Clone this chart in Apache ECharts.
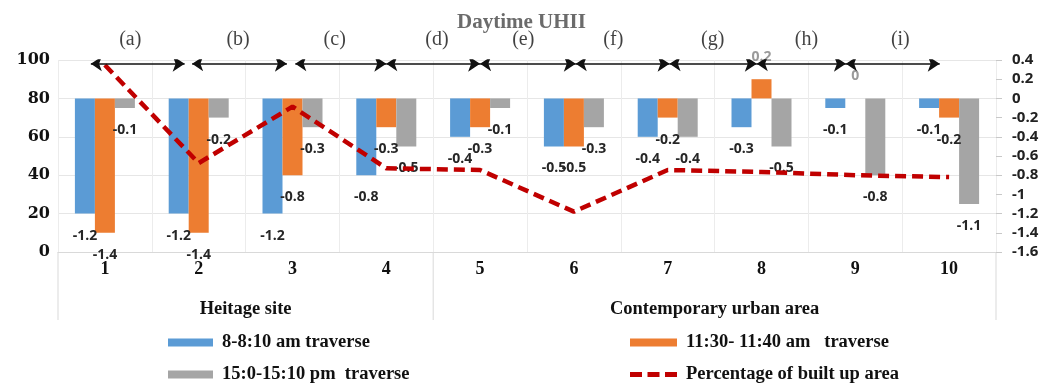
<!DOCTYPE html>
<html><head><meta charset="utf-8">
<script src="https://cdn.jsdelivr.net/npm/echarts@6/dist/echarts.min.js"></script>
<style>html,body{margin:0;padding:0;background:#fff}#c{width:1043px;height:386px}</style>
</head><body><div id="c"></div>
<script>
const categories = ['1','2','3','4','5','6','7','8','9','10'];
const am8 = [-1.2,-1.2,-1.2,-0.8,-0.4,-0.5,-0.4,-0.3,-0.1,-0.1];
const am1130 = [-1.4,-1.4,-0.8,-0.3,-0.3,-0.5,-0.2,0.2,0,-0.2];
const pm15 = [-0.1,-0.2,-0.3,-0.5,-0.1,-0.3,-0.4,-0.5,-0.8,-1.1];
const builtUp = [97.4,46.3,75.7,43.6,42.7,21,42.7,41.7,40,39];
const arrowLabels = ['(a)','(b)','(c)','(d)','(e)','(f)','(g)','(h)','(i)'];
const arrowFrom = [-0.15,0.93,2.03,3,4,5.02,6.02,6.95,7.9];
const arrowTo = [0.85,1.94,3,4,5.02,6.02,6.95,7.9,8.9];
const arrowLabelAt = [0.27,1.42,2.45,3.54,4.46,5.42,6.48,7.48,8.48];
const arrowLevel = 98;
const groups = [{name:'Heitage site', from:-0.5, to:3.5},{name:'Contemporary urban area', from:3.5, to:9.5}];
const seriesNames = ['8-8:10 am traverse','11:30- 11:40 am   traverse','15:0-15:10 pm  traverse','Percentage of built up area'];

const serif = "'Liberation Serif', 'DejaVu Serif', serif";
const sans = "'Open Sans', Lato, sans-serif";

function barData(arr){
  return arr.map(v => ({
    value: v,
    label: {
      position: v >= 0 ? 'top' : 'bottom',
      color: v >= 0 ? '#9a9a9a' : '#262626'
    }
  }));
}
const barLabel = {show:true, fontFamily:sans, fontSize:14, fontWeight:'bold', distance:15, formatter: p => String(p.value)};
const legendText = {fontFamily:serif, fontWeight:'bold', fontSize:18.5, color:'#111', padding:[0,0,0,4]};
const dashIcon = 'path://M0,0H12V5H0Z M17.5,0H29.5V5H17.5Z M35,0H47V5H35Z';

const chart = echarts.init(document.getElementById('c'));
const option = {
  animation:false,
  title:{text:'Daytime UHII', left:'center', top:7, textStyle:{fontFamily:serif, fontWeight:'bold', fontSize:21, color:'#6b6b6b'}},
  grid:{left:58, right:47, top:60, bottom:134},
  legend:[
    {data:[{name:seriesNames[0], icon:'rect'}, {name:seriesNames[2], icon:'rect'}], orient:'vertical', left:168, top:333, padding:0, itemWidth:45, itemHeight:8, itemGap:13, height:70,
     textStyle:legendText},
    {data:[{name:seriesNames[1], icon:'rect'}, {name:seriesNames[3], icon:dashIcon, itemStyle:{color:'#c00000'}}], orient:'vertical', left:630, top:333, padding:0, itemWidth:47, itemHeight:8, itemGap:13, height:70,
     textStyle:legendText}
  ],
  xAxis:[
    {type:'category', data:categories, axisLine:{lineStyle:{color:'#d9d9d9'}}, axisTick:{show:false},
     splitLine:{show:true, lineStyle:{color:'#ececec'}},
     axisLabel:{fontFamily:serif, fontWeight:'bold', fontSize:18, color:'#111', margin:8}},
    {type:'value', min:-0.5, max:9.5, show:false}
  ],
  yAxis:[
    {type:'value', min:0, max:100, interval:20, position:'left',
     axisLabel:{fontFamily:"'DejaVu Serif', serif", fontWeight:'bold', fontSize:16, color:'#111', margin:8},
     axisLine:{show:false}, axisTick:{show:false}, splitLine:{lineStyle:{color:'#e6e6e6'}}},
    {type:'value', min:-1.6, max:0.4, interval:0.2, position:'right',
     axisLabel:{fontFamily:sans, fontWeight:'bold', fontSize:15, color:'#222', margin:16, formatter: v => String(Math.round(v*10)/10)},
     axisLine:{show:false}, axisTick:{show:true, inside:false, length:6, lineStyle:{color:'#c8c8c8'}}, splitLine:{show:false}}
  ],
  series:[
    {name:seriesNames[0], type:'bar', yAxisIndex:1, data:barData(am8), barWidth:20, barGap:'0%', itemStyle:{color:'#5b9bd5'}, label:barLabel},
    {name:seriesNames[1], type:'bar', yAxisIndex:1, data:barData(am1130), barWidth:20, barGap:'0%', itemStyle:{color:'#ed7d31'}, label:barLabel},
    {name:seriesNames[2], type:'bar', yAxisIndex:1, data:barData(pm15), barWidth:20, barGap:'0%', itemStyle:{color:'#a5a5a5'}, label:barLabel},
    {name:seriesNames[3], type:'line', yAxisIndex:0, data:builtUp, symbol:'none', z:5,
     lineStyle:{color:'#c00000', width:4.5, type:[11,6]}, itemStyle:{color:'#c00000'}},
    {name:'arrows', type:'lines', coordinateSystem:'cartesian2d', xAxisIndex:1, yAxisIndex:0, z:6,
     symbol:['arrow','arrow'], symbolSize:[11,12],
     lineStyle:{color:'#111', width:1.5, opacity:1},
     data: arrowLabels.map((n,i)=>({name:n, coords:[[arrowFrom[i], arrowLevel],[arrowTo[i], arrowLevel]]}))},
    {name:'arrowLabels', type:'scatter', xAxisIndex:1, yAxisIndex:0, symbol:'circle', symbolSize:1, z:6, silent:true,
     itemStyle:{color:'rgba(0,0,0,0)'},
     label:{show:true, position:'inside', offset:[0,-24], fontFamily:serif, fontSize:20, color:'#111', formatter: p => arrowLabels[p.dataIndex]},
     data: arrowLabelAt.map(x => [x, arrowLevel])}
  ]
};
chart.setOption(option);

function placeGroups(){
  const g = [];
  const y0 = chart.convertToPixel({xAxisIndex:1, yAxisIndex:0}, [0, 0])[1];
  const seps = [groups[0].from, groups[0].to, groups[1].to];
  seps.forEach(s => {
    const x = chart.convertToPixel({xAxisIndex:1, yAxisIndex:0}, [s, 0])[0];
    g.push({type:'line', shape:{x1:x, y1:y0, x2:x, y2:y0+68}, style:{stroke:'#d9d9d9', lineWidth:1}});
  });
  groups.forEach(gr => {
    const x = chart.convertToPixel({xAxisIndex:1, yAxisIndex:0}, [(gr.from+gr.to)/2, 0])[0];
    g.push({type:'text', x:x, y:y0+57, style:{text:gr.name, align:'center', verticalAlign:'middle',
      font:"bold 18.5px 'Liberation Serif', serif", fill:'#111'}});
  });
  chart.setOption({graphic:g});
}
placeGroups();
</script>
</body></html>
